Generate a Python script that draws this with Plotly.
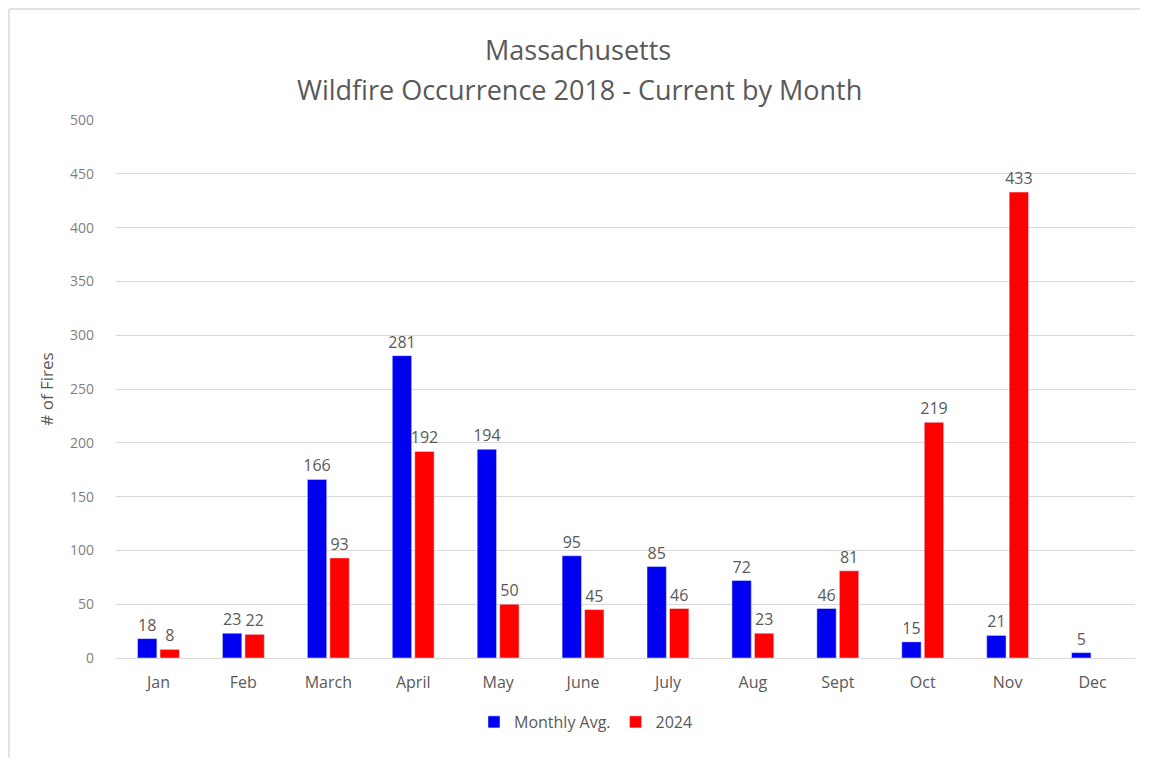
import plotly.graph_objects as go

months = ["Jan", "Feb", "March", "April", "May", "June", "July", "Aug", "Sept", "Oct", "Nov", "Dec"]
monthly_avg = [18, 23, 166, 281, 194, 95, 85, 72, 46, 15, 21, 5]
y2024 = [8, 22, 93, 192, 50, 45, 46, 23, 81, 219, 433, None]
y_ticks = [0, 50, 100, 150, 200, 250, 300, 350, 400, 450, 500]
title_lines = ["Massachusetts", "Wildfire Occurrence 2018 - Current by Month"]

FONT = "Open Sans"
GRAY = "#595959"
OFF = 8  # page body margin

W, H = 1155 - OFF, 782 - OFF
# plot area in page pixels: x 116..1135, y 120..658
L = 116 - OFF
T = 120 - OFF
R = W - (1135 - OFF)
B = H - (658 - OFF)
pw, ph = W - L - R, H - T - B


def px(xpage):
    return (xpage - OFF - L) / pw


def py(ypage):
    return (H - B - (ypage - OFF)) / ph


fig = go.Figure()
fig.add_trace(go.Bar(
    x=months, y=monthly_avg, name="Monthly Avg.",
    marker=dict(color="#0000F0"),
    text=monthly_avg, textposition="outside", constraintext="none",
    textfont=dict(size=16, color=GRAY, family=FONT),
    cliponaxis=False,
))
fig.add_trace(go.Bar(
    x=months, y=y2024, name="2024",
    marker=dict(color="#FF0000"),
    text=[("" if v is None else v) for v in y2024], textposition="outside",
    constraintext="none",
    textfont=dict(size=16, color=GRAY, family=FONT),
    cliponaxis=False,
))

annotations = [
    dict(text=title_lines[0], xref="paper", yref="paper", x=px(578), y=py(50),
         xanchor="center", yanchor="middle", showarrow=False,
         font=dict(size=27, color=GRAY, family=FONT)),
    dict(text=title_lines[1], xref="paper", yref="paper", x=px(579), y=py(90),
         xanchor="center", yanchor="middle", showarrow=False,
         font=dict(size=27, color=GRAY, family=FONT)),
]

fig.update_layout(
    width=W, height=H,
    margin=dict(l=L, r=R, t=T, b=B),
    paper_bgcolor="white", plot_bgcolor="white",
    font=dict(family=FONT, color=GRAY),
    annotations=annotations,
    barmode="group", bargap=0.47, bargroupgap=0.14,
    showlegend=True,
    legend=dict(
        orientation="h", x=px(586), xanchor="center",
        y=py(722), yanchor="middle",
        font=dict(size=16, color=GRAY, family=FONT),
        traceorder="normal", itemwidth=30,
    ),
    xaxis=dict(
        showgrid=False, showline=True, linecolor="#d9d9d9",
        tickfont=dict(size=16, color=GRAY, family=FONT),
        ticks="", ticklabelstandoff=10,
    ),
    yaxis=dict(
        range=[0, 500], tickvals=y_ticks,
        showgrid=True, gridcolor="#d9d9d9", gridwidth=1,
        zeroline=False, showline=False,
        tickfont=dict(size=14, color="#7f7f7f", family=FONT),
        ticklabelstandoff=21,
        title=dict(text="# of Fires", font=dict(size=17, color=GRAY, family=FONT), standoff=12),
    ),
    shapes=[
        dict(type="line", xref="paper", yref="paper",
             x0=px(9), x1=px(1140), y0=py(9), y1=py(9),
             line=dict(color="#e3e3e3", width=2)),
        dict(type="line", xref="paper", yref="paper",
             x0=px(9), x1=px(9), y0=py(9), y1=py(758),
             line=dict(color="#e3e3e3", width=2)),
    ],
)

fig.write_html("out.html")
